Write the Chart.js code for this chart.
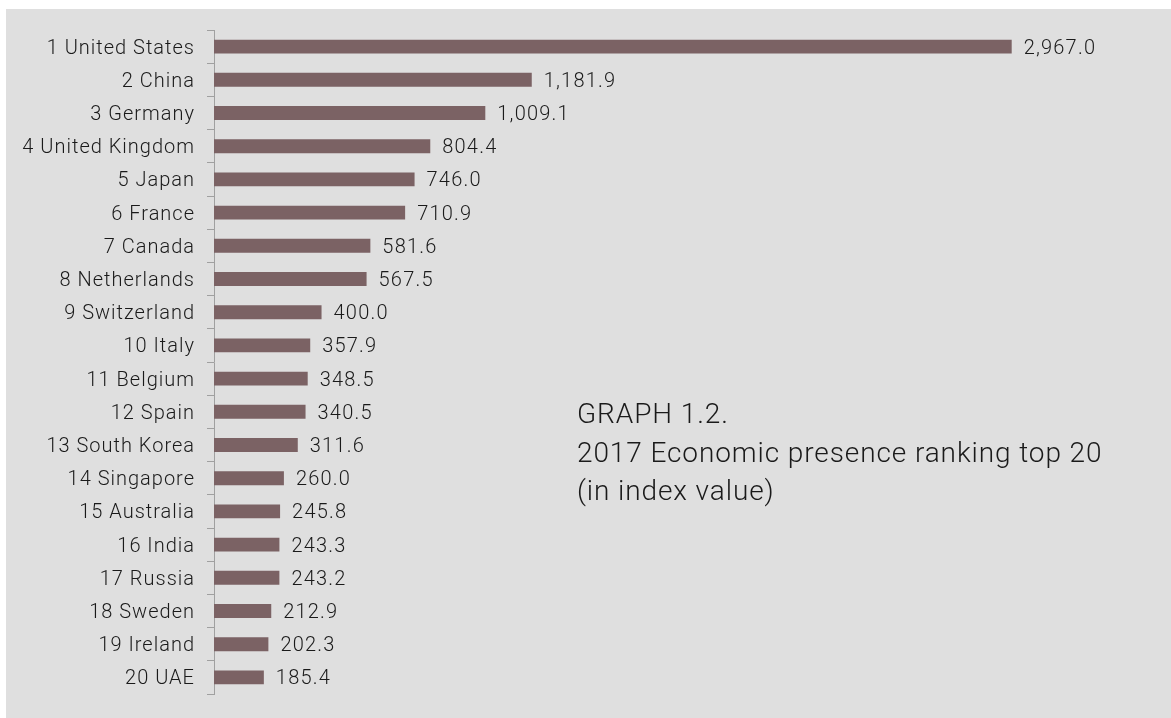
<!DOCTYPE html>
<html>
<head>
<meta charset="utf-8">
<script src="https://cdn.jsdelivr.net/npm/chart.js@4"></script>
<style>
  html, body { margin: 0; padding: 0; background: #ffffff; }
  #wrap { position: relative; width: 1171px; height: 718px; }
</style>
</head>
<body>
<div id="wrap"><canvas id="canvas1" width="1171" height="718"></canvas></div>
<script>
const countries = ['1 United States', '2 China', '3 Germany', '4 United Kingdom', '5 Japan',
  '6 France', '7 Canada', '8 Netherlands', '9 Switzerland', '10 Italy',
  '11 Belgium', '12 Spain', '13 South Korea', '14 Singapore', '15 Australia',
  '16 India', '17 Russia', '18 Sweden', '19 Ireland', '20 UAE'];
const indexValues = [2967.0, 1181.9, 1009.1, 804.4, 746.0,
  710.9, 581.6, 567.5, 400.0, 357.9,
  348.5, 340.5, 311.6, 260.0, 245.8,
  243.3, 243.2, 212.9, 202.3, 185.4];
const titleLines = ['GRAPH 1.2.', '2017 Economic presence ranking top 20', '(in index value)'];

const FONT = 'Roboto, "Liberation Sans", sans-serif';

// grey panel behind the chart; also widen the letters a bit (Helvetica-ish look)
const panel = {
  id: 'panel',
  beforeDraw(chart) {
    const ctx = chart.ctx;
    ctx.letterSpacing = '1px';
    ctx.save();
    ctx.fillStyle = '#ffffff';
    ctx.fillRect(0, 0, chart.width, chart.height);
    ctx.fillStyle = '#dfdfdf';
    ctx.fillRect(6, 9, chart.width - 6, chart.height - 9);
    ctx.restore();
  }
};

// value labels at bar ends + the caption block
const labels = {
  id: 'labels',
  afterDatasetsDraw(chart) {
    const ctx = chart.ctx;
    const meta = chart.getDatasetMeta(0);
    ctx.save();
    ctx.fillStyle = '#1a1a1a';
    ctx.font = '300 20px ' + FONT;
    ctx.letterSpacing = '1.2px';
    ctx.textAlign = 'left';
    ctx.textBaseline = 'middle';
    meta.data.forEach((bar, i) => {
      const v = indexValues[i].toLocaleString('en-US', { minimumFractionDigits: 1, maximumFractionDigits: 1 });
      ctx.fillText(v, bar.x + 12, bar.y + 2);
    });
    ctx.font = '300 28px ' + FONT;
    ctx.letterSpacing = '0.9px';
    ctx.textBaseline = 'alphabetic';
    titleLines.forEach((t, i) => {
      ctx.fillText(t, 577, 423 + i * 38.5);
    });
    ctx.restore();
  }
};

const ctx1 = canvas1.getContext('2d');
const config = {
  type: 'bar',
  data: {
    labels: countries,
    datasets: [{
      data: indexValues,
      backgroundColor: '#7b6264',
      borderWidth: 0,
      barPercentage: 0.42,
      categoryPercentage: 1
    }]
  },
  options: {
    indexAxis: 'y',
    responsive: false,
    animation: false,
    layout: { padding: { top: 30, bottom: 16, right: 16, left: 0 } },
    plugins: { legend: { display: false }, tooltip: { enabled: false } },
    scales: {
      x: { display: false, min: 0, max: 3500 },
      y: {
        afterFit(scale) { scale.width = 214; },
        border: { color: '#a0a0a0', width: 1 },
        grid: { drawOnChartArea: false, drawTicks: true, tickLength: 7, color: '#a0a0a0', offset: true },
        ticks: { color: '#1a1a1a', padding: 12, labelOffset: 2, font: { family: FONT, size: 20, weight: 300 } }
      }
    }
  },
  plugins: [panel, labels]
};
const chart1 = new Chart(ctx1, config);
</script>
</body>
</html>
